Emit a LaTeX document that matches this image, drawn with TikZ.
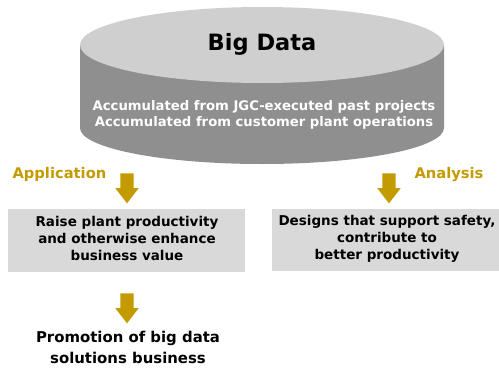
\documentclass[tikz,border=0pt]{standalone}
\usepackage{fontspec}
\setmainfont{DejaVu Sans}
\usetikzlibrary{shapes.arrows}
\definecolor{topgray}{HTML}{CFCFCF}
\definecolor{sidegray}{HTML}{8F8F8F}
\definecolor{boxgray}{HTML}{D9D9D9}
\definecolor{gold}{HTML}{C39A00}
\tikzset{
  downarrow/.style={single arrow, shape border rotate=270, fill=gold, draw=none,
    minimum height=30pt, inner sep=6.5pt, single arrow head extend=5pt,
    single arrow tip angle=75, anchor=center},
  boxtxt/.style={font=\bfseries\fontsize{13.5}{17}\selectfont, align=center, text=black},
  goldlbl/.style={font=\bfseries\fontsize{14.7}{17}\selectfont, text=gold},
}
\begin{document}
\begin{tikzpicture}[x=1pt,y=-1pt]
\useasboundingbox (0,0) rectangle (499,370);
% cylinder
\fill[sidegray] (80,45) -- (80,128) arc[start angle=180, end angle=0, x radius=182, y radius=36] -- (444,45) -- cycle;
\fill[topgray] (262,45) ellipse[x radius=182, y radius=38];
\node[font=\bfseries\fontsize{22.5}{26}\selectfont] (big) at (262,44) {Big Data};
\node[font=\bfseries\fontsize{13.2}{16}\selectfont, text=white, align=center] (acc) at (264,115)
  {Accumulated from JGC-executed past projects\\Accumulated from customer plant operations};
% labels
\node[goldlbl, anchor=west] (app) at (9,174) {Application};
\node[goldlbl, anchor=west] (ana) at (411,174) {Analysis};
% arrows
\node[downarrow] (a1) at (127,184) {};
\node[downarrow] (a2) at (389,184) {};
% boxes
\fill[boxgray] (8,209) rectangle (245,272);
\node[boxtxt] (b1) at (127,238.5) {Raise plant productivity\\and otherwise enhance\\business value};
\fill[boxgray] (272,209) rectangle (499,271);
\node[boxtxt] (b2) at (387,238.5) {Designs that support safety,\\contribute to\\better productivity};
\node[downarrow] (a3) at (127,304) {};
\node[font=\bfseries\fontsize{14.9}{21}\selectfont, align=center] (prom) at (128,347.5)
  {Promotion of big data\\solutions business};
\end{tikzpicture}
\end{document}
